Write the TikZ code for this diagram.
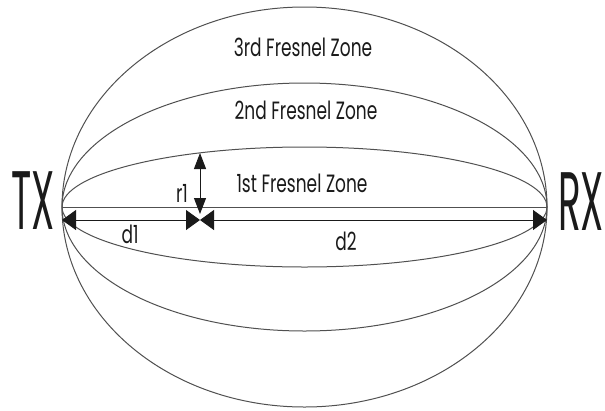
\documentclass[tikz,border=0pt]{standalone}
\usepackage{fontspec}
\usepackage{tikz}
\usetikzlibrary{arrows.meta}
\newfontfamily\zonefont[FakeStretch=0.68]{Poppins}
\newfontfamily\endfont[FakeStretch=0.45]{Poppins}
\definecolor{curve}{HTML}{505050}
\definecolor{char}{HTML}{1A1A1A}

\begin{document}
\begin{tikzpicture}[
  x=1pt, y=-1pt,
  lbl/.style={inner sep=0pt, color=char, font=\zonefont\fontsize{25}{28}\selectfont},
  endpt/.style={inner sep=0pt, color=char, font=\endfont\fontsize{83}{90}\selectfont},
  zone/.style={line width=1pt, color=curve},
  dimH/.style={{Triangle[length=14pt,width=20pt]}-{Triangle[length=14pt,width=20pt]},
               line width=1pt, color=char},
  dimV/.style={{Triangle[length=16pt,width=12pt]}-{Triangle[length=16pt,width=12pt]},
               line width=1pt, color=char}
]
\useasboundingbox (0,0) rectangle (605,410);
% Antennas
\node[endpt] (TX) at (33,201) {TX};
\node[endpt] (RX) at (581,202) {RX};
\coordinate (tx) at (62,207);
\coordinate (rx) at (547,207);
\coordinate (c)  at (304.5,207);
% Fresnel zones
\draw[zone] (c) ellipse [x radius=242.5pt, y radius=60pt];
\draw[zone] (c) ellipse [x radius=242.5pt, y radius=124pt];
\draw[zone] (c) ellipse [x radius=242.5pt, y radius=200pt];
% Line of sight
\draw[zone] (tx) -- (rx);
% Distances
\coordinate (txA) at (62,220);
\coordinate (mid) at (200,220);
\coordinate (rxA) at (547,220);
\draw[dimH] (txA) -- (mid);
\draw[dimH] (mid) -- (rxA);
% Radius
\coordinate (top1) at (200,153);
\coordinate (foot) at (200,214);
\draw[dimV] (top1) -- (foot);
% Labels
\node[lbl] (z3) at (303,47)  {3rd Fresnel Zone};
\node[lbl] (z2) at (306,110) {2nd Fresnel Zone};
\node[lbl] (z1) at (302,183) {1st Fresnel Zone};
\node[lbl] (r1) at (182,193) {r1};
\node[lbl] (d1) at (130,234) {d1};
\node[lbl] (d2) at (346,241) {d2};
\end{tikzpicture}
\end{document}
